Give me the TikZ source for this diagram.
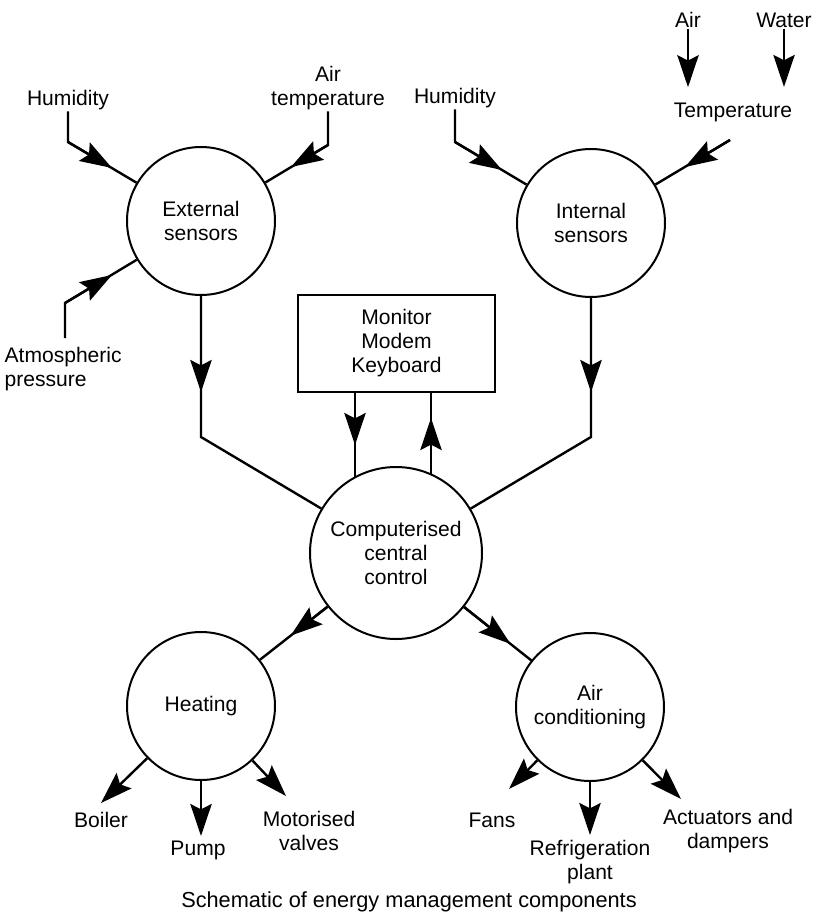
\documentclass[tikz,border=0pt]{standalone}
\usepackage{fontspec}
\setmainfont{Liberation Sans}
\usetikzlibrary{arrows.meta,calc}
\begin{document}
\begin{tikzpicture}[x=0.75pt,y=-0.75pt,
  every node/.style={font=\fontsize{15.8}{18}\selectfont, align=center, inner sep=1pt},
  circ/.style={draw, circle, line width=1.5pt, minimum size=111pt, inner sep=0pt},
  bigcirc/.style={circ, minimum size=129pt},
  boxnode/.style={draw, line width=1.5pt, minimum width=147.75pt, minimum height=72.75pt, inner sep=0pt},
  conn/.style={line width=1.8pt},
  arr/.style={conn, -{Stealth[length=24pt 0 0,width=16pt 0 0,inset=4pt 0 0]}}]
\useasboundingbox (0,0) rectangle (816,918);

% main nodes
\node[circ] (ext) at (201,221) {External\\sensors};
\node[circ] (int) at (591,223) {Internal\\sensors};
\node[bigcirc] (cc) at (396,553) {Computerised\\central\\control};
\node[circ] (heat) at (201,706) {Heating};
\node[circ] (ac) at (590,707) {Air\\conditioning};
\node[boxnode] (box) at (396.5,343.5) {Monitor\\Modem\\Keyboard};

% labels
\node (hum1) at (68,100) {Humidity};
\node (airt) at (328,88) {Air\\temperature};
\node[align=left, anchor=west] (atm) at (3,369) {Atmospheric\\pressure};
\node (hum2) at (455,98) {Humidity};
\node (temp) at (733,112) {Temperature};
\node (air) at (688,20) {Air};
\node (water) at (784,20) {Water};
\node (boiler) at (101,820) {Boiler};
\node (pump) at (198,850) {Pump};
\node (valves) at (309,831) {Motorised\\valves};
\node (fans) at (492,820) {Fans};
\node (refr) at (590,862) {Refrigeration\\plant};
\node (act) at (728,831) {Actuators and\\dampers};
\node[font=\fontsize{16.3}{18}\selectfont] (cap) at (409,902) {Schematic of energy management components};

% external sensor inputs
\coordinate (h1b) at (68,142);
\coordinate (h1t) at (112,168);
\draw[conn] (hum1.south) -- (h1b) -- (ext);
\draw[arr] (h1b) -- (h1t);

\coordinate (atb) at (328,145);
\coordinate (att) at (291,167);
\draw[conn] (airt.south) -- (atb) -- (ext);
\draw[arr] (atb) -- (att);

\coordinate (apb) at (65,338);
\coordinate (apk) at (65,303);
\coordinate (apt) at (112,275);
\draw[conn] (apb) -- (apk) -- (ext);
\draw[arr] (apk) -- (apt);

% internal sensor inputs
\coordinate (h2b) at (455,142);
\coordinate (h2t) at (502,170);
\draw[conn] (hum2.south) -- (h2b) -- (int);
\draw[arr] (h2b) -- (h2t);

\coordinate (tpb) at (730,140);
\coordinate (tpt) at (685,167);
\draw[conn] (tpb) -- (int);
\draw[arr] (tpb) -- (tpt);

\draw[arr] (air.south) -- ++(0,58);
\draw[arr] (water.south) -- ++(0,58);

% sensors to central control
\coordinate (ej) at (201,437);
\coordinate (ea) at (201,392);
\draw[conn] (ext) -- (ej) -- (cc);
\draw[arr] (ext) -- (ea);

\coordinate (ij) at (591,437);
\coordinate (ia) at (591,392);
\draw[conn] (int) -- (ij) -- (cc);
\draw[arr] (int) -- (ia);

% box <-> central control
\coordinate (c1) at (355,477.5);
\coordinate (c1a) at (355,445);
\draw[conn] (box.south -| c1) -- (c1);
\draw[arr] (box.south -| c1) -- (c1a);

\coordinate (c2) at (431,474.5);
\coordinate (c2a) at (431,418);
\draw[conn] (c2) -- (box.south -| c2);
\draw[arr] (c2) -- (c2a);

% central control to outputs
\draw[conn] (cc) -- (heat);
\draw[arr] (cc) -- ($(cc)!0.54!(heat)$);
\draw[conn] (cc) -- (ac);
\draw[arr] (cc) -- ($(cc)!0.59!(ac)$);

% heating outputs
\coordinate (bt) at (101,803);
\coordinate (vt) at (286,796);
\draw[arr] (heat) -- (bt);
\draw[arr] (heat.south) -- ++(0,55);
\draw[arr] (heat) -- (vt);

% air conditioning outputs
\coordinate (ft) at (509,789);
\coordinate (adt) at (681,799);
\draw[arr] (ac) -- (ft);
\draw[arr] (ac.south) -- ++(0,53);
\draw[arr] (ac) -- (adt);
\end{tikzpicture}
\end{document}
